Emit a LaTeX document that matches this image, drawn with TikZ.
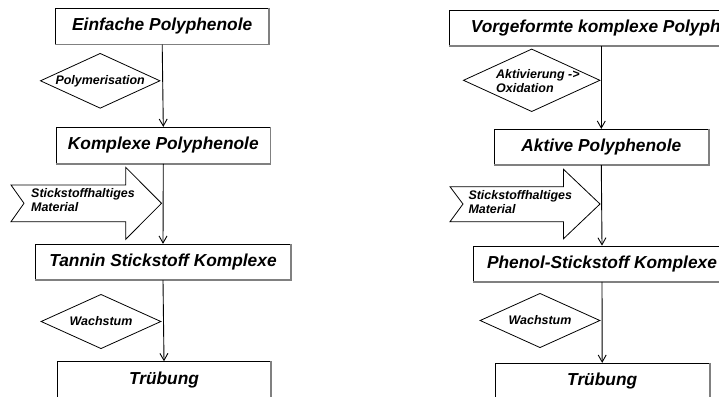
\documentclass[tikz,border=0pt]{standalone}
\usepackage{fontspec}
\setmainfont{Liberation Sans}
\usetikzlibrary{shapes.geometric,arrows.meta}
\begin{document}
\begin{tikzpicture}[x=1bp,y=-1bp,
  mainbox/.style={draw=black, line width=0.9bp, fill=white, inner sep=0pt,
    font=\fontsize{17.4}{20}\selectfont\bfseries\itshape, text height=12.5bp, text depth=3.6bp},
  dia/.style={diamond, draw=black, line width=0.8bp, fill=white, inner sep=0pt},
  small/.style={font=\fontsize{12.5}{14.2}\selectfont\bfseries\itshape, inner sep=0pt},
  flow/.style={draw=black, line width=0.9bp, -{Straight Barb[length=7bp,width=8bp]}},
  shade/.style={draw=black!50, line width=1.6bp},
  notched/.style={draw=black, line width=0.8bp, fill=white}
]
\useasboundingbox (0,0) rectangle (719,396);
\clip (0,0) rectangle (719,396);

% ---------- left column ----------
\node[mainbox, minimum width=213bp, minimum height=35.7bp] (b1) at (162.2,26.2) {Einfache Polyphenole};
\node[mainbox, minimum width=213.3bp, minimum height=36bp] (b2) at (163.3,145.3) {Komplexe Polyphenole};
\node[mainbox, minimum width=255.4bp, minimum height=35.4bp] (b3) at (163,262) {Tannin Stickstoff Komplexe};
\node[mainbox, minimum width=213.4bp, minimum height=36bp] (b4) at (164,379.7) {Trübung};
\foreach \n in {b1,b2,b3,b4}{\draw[shade] (\n.north east) -- (\n.south east) -- (\n.south west);}

\node[dia, minimum width=119.7bp, minimum height=55bp, label={[small]center:Polymerisation}] (d1) at (100.2,80.8) {};
\node[dia, minimum width=120bp, minimum height=54.4bp, label={[small]center:Wachstum}] (d2) at (101,321.5) {};

\draw[notched] (11,185) -- (125.7,185) -- (125.7,167.3) -- (161.5,203.3) -- (125.7,239.3) -- (125.7,221.7) -- (11,221.7) -- (24,203.3) -- cycle;
\node[small, align=left, anchor=base west] (a1) at (31,211.7) {Stickstoffhaltiges\\Material};

\draw[flow] (b1.south) -- (b2.north);
\draw[flow] (b2.south) -- (b3.north);
\draw[flow] (b3.south) -- (b4.north);

% ---------- right column ----------
\node[mainbox, minimum width=339bp, minimum height=35bp] (r1) at (618.5,28.2) {Vorgeformte komplexe Polyphenole};
\node[mainbox, minimum width=214bp, minimum height=35.4bp] (r2) at (601.3,147) {Aktive Polyphenole};
\node[mainbox, minimum width=257bp, minimum height=35.3bp] (r3) at (602,263.7) {Phenol-Stickstoff Komplexe};
\node[mainbox, minimum width=214.3bp, minimum height=36bp] (r4) at (602.2,381.3) {Trübung};
\foreach \n in {r1,r2,r3,r4}{\draw[shade] (\n.north east) -- (\n.south east) -- (\n.south west);}

\node[dia, minimum width=136.7bp, minimum height=62.7bp] (d3) at (531.7,80.3) {};
\node[small, align=left, anchor=base west] (t3) at (496,92.7) {Aktivierung ->\\Oxidation};
\node[dia, minimum width=120bp, minimum height=54.4bp, label={[small]center:Wachstum}] (d4) at (540,320.5) {};

\draw[notched] (450,186.7) -- (563.5,186.7) -- (563.5,169.3) -- (600,204) -- (563.5,238.7) -- (563.5,221.7) -- (450,221.7) -- (463,204) -- cycle;
\node[small, align=left, anchor=base west] (a2) at (468.3,213.3) {Stickstoffhaltiges\\Material};

\draw[flow] (r2.north |- r1.south) -- (r2.north);
\draw[flow] (r2.south) -- (r3.north);
\draw[flow] (r3.south) -- (r4.north);
\end{tikzpicture}
\end{document}
